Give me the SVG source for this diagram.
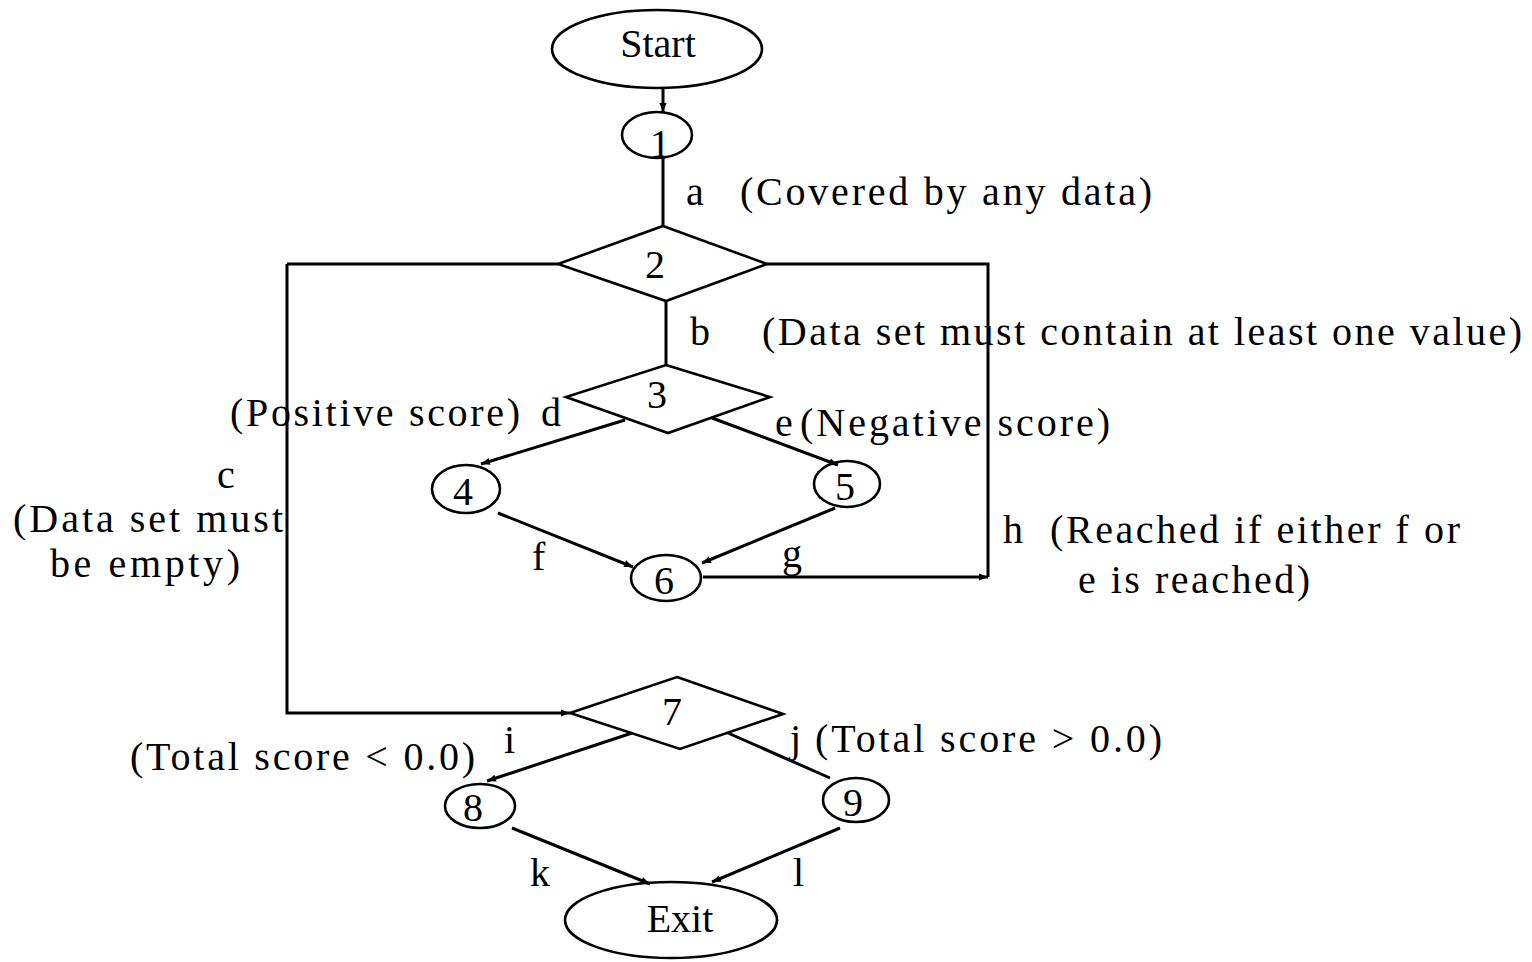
<svg xmlns="http://www.w3.org/2000/svg" width="1532" height="962" viewBox="0 0 1532 962">
<style>
.s{fill:none;stroke:#000;stroke-width:2.6}
.e{fill:none;stroke:#000;stroke-width:3}
text{font-family:"Liberation Serif","Times New Roman",serif;font-size:40px;fill:#000}
.c{text-anchor:middle}
</style>
<defs>
<marker id="ah" viewBox="0 0 10 10" refX="10" refY="5" markerWidth="9" markerHeight="9" markerUnits="userSpaceOnUse" orient="auto">
<path d="M0,1 L10,5 L0,9 z" fill="#000"/>
</marker>
</defs>
<rect width="1532" height="962" fill="#fff"/>
<g id="connectors">
<line class="e" x1="663" y1="88" x2="663" y2="112" marker-end="url(#ah)"/>
<line class="e" x1="663" y1="158" x2="663" y2="226"/>
<line class="e" x1="666" y1="302" x2="666" y2="365"/>
<polyline class="e" points="558,264 287,264"/>
<polyline class="e" points="287,264 287,713 570,713" marker-end="url(#ah)"/>
<polyline class="e" points="767,264 988,264 988,577"/>
<line class="e" x1="703" y1="577" x2="988" y2="577" marker-end="url(#ah)"/>
<line class="e" x1="625" y1="420" x2="481" y2="464" marker-end="url(#ah)"/>
<line class="e" x1="712" y1="418" x2="838" y2="465" marker-end="url(#ah)"/>
<line class="e" x1="498" y1="513" x2="633" y2="567" marker-end="url(#ah)"/>
<line class="e" x1="835" y1="508" x2="702" y2="563" marker-end="url(#ah)"/>
<line class="e" x1="632" y1="733" x2="487" y2="781" marker-end="url(#ah)"/>
<line class="e" x1="728" y1="733" x2="830" y2="778"/>
<line class="e" x1="512" y1="828" x2="650" y2="884" marker-end="url(#ah)"/>
<line class="e" x1="840" y1="828" x2="712" y2="882" marker-end="url(#ah)"/>
</g>
<g id="start">
<ellipse class="s" cx="657" cy="49" rx="105" ry="39"/>
<text class="c" x="658" y="57">Start</text>
</g>
<g id="n1">
<ellipse class="s" cx="657" cy="135" rx="35" ry="23"/>
<text class="c" x="660" y="157">1</text>
</g>
<g id="n2">
<polygon class="s" points="663,226 767,264 666,301 558,264"/>
<text class="c" x="655" y="278">2</text>
</g>
<g id="n3">
<polygon class="s" points="666,365 770,397 668,433 566,397"/>
<text class="c" x="657" y="408">3</text>
</g>
<g id="n4">
<ellipse class="s" cx="466" cy="489" rx="34" ry="24"/>
<text class="c" x="463" y="505">4</text>
</g>
<g id="n5">
<ellipse class="s" cx="847" cy="484" rx="33" ry="23"/>
<text class="c" x="845" y="500">5</text>
</g>
<g id="n6">
<ellipse class="s" cx="666" cy="578" rx="35" ry="23"/>
<text class="c" x="664" y="594">6</text>
</g>
<g id="n7">
<polygon class="s" points="677,677 783,714 680,749 570,713"/>
<text class="c" x="672" y="725">7</text>
</g>
<g id="n8">
<ellipse class="s" cx="480" cy="806" rx="35" ry="22"/>
<text class="c" x="473" y="821">8</text>
</g>
<g id="n9">
<ellipse class="s" cx="856" cy="800" rx="33" ry="22"/>
<text class="c" x="853" y="816">9</text>
</g>
<g id="exit">
<ellipse class="s" cx="671" cy="920" rx="106" ry="38"/>
<text class="c" x="680" y="932">Exit</text>
</g>
<g id="labels">
<text x="686" y="205">a</text>
<text x="740" y="205" textLength="412" lengthAdjust="spacing">(Covered by any data)</text>
<text x="690" y="345">b</text>
<text x="762" y="345" textLength="760" lengthAdjust="spacing">(Data set must contain at least one value)</text>
<text x="230" y="426" textLength="290" lengthAdjust="spacing">(Positive score)</text>
<text x="541" y="426">d</text>
<text x="775" y="436">e</text>
<text x="800" y="436" textLength="310" lengthAdjust="spacing">(Negative score)</text>
<text x="217" y="488">c</text>
<text x="13" y="532" textLength="270" lengthAdjust="spacing">(Data set must</text>
<text x="50" y="577" textLength="190" lengthAdjust="spacing">be empty)</text>
<text x="532" y="570">f</text>
<text x="782" y="567">g</text>
<text x="1003" y="543">h</text>
<text x="1050" y="543" textLength="410" lengthAdjust="spacing">(Reached if either f or</text>
<text x="1078" y="593" textLength="232" lengthAdjust="spacing">e is reached)</text>
<text x="504" y="753">i</text>
<text x="130" y="770" textLength="345" lengthAdjust="spacing">(Total score &lt; 0.0)</text>
<text x="790" y="752">j</text>
<text x="815" y="752" textLength="347" lengthAdjust="spacing">(Total score &gt; 0.0)</text>
<text x="530" y="886">k</text>
<text x="793" y="886">l</text>
</g>
</svg>
